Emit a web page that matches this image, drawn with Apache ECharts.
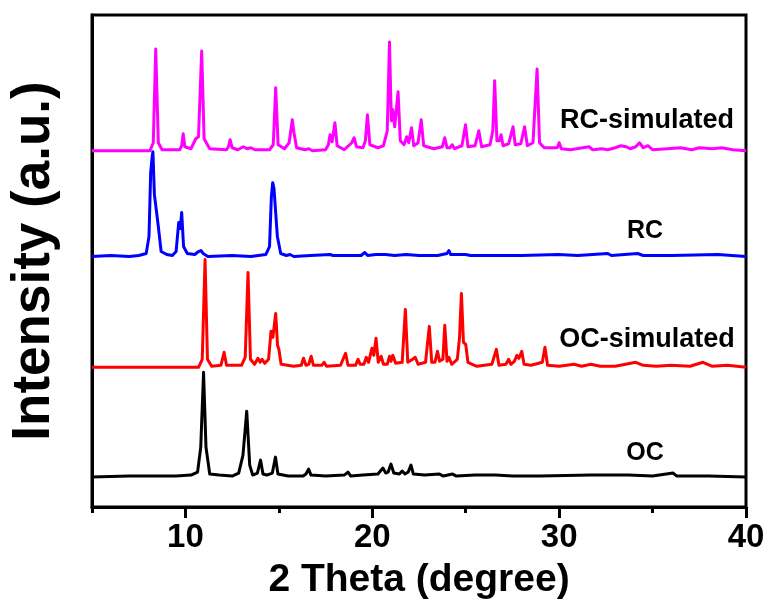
<!DOCTYPE html>
<html>
<head>
<meta charset="utf-8">
<script src="https://cdn.jsdelivr.net/npm/echarts@6/dist/echarts.min.js"></script>
<style>
  html, body { margin: 0; padding: 0; background: #fff; }
  #main { width: 770px; height: 605px; }
</style>
</head>
<body>
<div id="main"></div>
<script>
// pattern names, bottom to top
const seriesNames = ['OC', 'OC-simulated', 'RC', 'RC-simulated'];
const xTickLabels = [10, 20, 30, 40];
const xMinorTicks = [5, 15, 25, 35];

// [2theta, intensity above own baseline]
const ocData = [
  [5,0],[7,1],[9.5,1],[10.3,2],[10.65,5],[10.82,30],[10.97,105],[11.1,30],[11.3,3],[11.8,2],
  [12.5,1],[12.85,4],[13.08,22],[13.28,66],[13.44,12],[13.6,2],[13.85,4],[14.02,17],[14.15,3],
  [14.35,2],[14.65,4],[14.82,20],[14.95,3],[15.5,1],[16.3,1],[16.45,3],[16.59,8],[16.72,2],
  [17.5,1],[18.5,2],[18.7,5],[18.85,1],[19.5,2],[20.3,3],[20.57,9],[20.72,4],[20.85,5],
  [21.0,13],[21.15,4],[21.45,3],[21.6,6],[21.75,3],[21.92,5],[22.07,12],[22.2,3],[22.8,2],
  [23.6,3],[23.8,1],[24.3,3],[24.5,1],[25.5,2],[26.6,2],[27.5,1],[29,1],[31.7,2],[33.7,2],
  [35,1],[36.1,4],[36.3,1],[38,1],[40,0]
];

const ocSimData = [
  [5,0],[10.7,0],[10.9,8],[11.05,108],[11.18,8],[11.4,1],[11.9,2],[12.07,15],[12.2,2],[13.0,2],
  [13.2,10],[13.35,95],[13.48,8],[13.7,3],[13.88,9],[14.0,5],[14.1,8],[14.25,4],[14.45,8],
  [14.58,36],[14.68,30],[14.83,54],[14.93,22],[15.0,18],[15.12,3],[15.8,1],[16.2,2],[16.32,9],
  [16.45,2],[16.6,3],[16.73,11],[16.85,2],[17.3,2],[17.42,5],[17.55,1],[18.3,2],[18.57,14],
  [18.7,2],[19.1,2],[19.24,8],[19.35,3],[19.55,3],[19.68,10],[19.8,5],[19.98,19],[20.08,12],
  [20.2,29],[20.32,5],[20.47,11],[20.6,3],[20.8,3],[20.92,11],[21.0,6],[21.1,12],[21.25,4],
  [21.6,5],[21.77,58],[21.9,5],[22.16,8],[22.22,6],[22.3,10],[22.45,3],[22.85,5],[23.05,41],
  [23.18,5],[23.35,5],[23.49,16],[23.6,6],[23.78,8],[23.88,42],[24.0,6],[24.1,10],[24.25,3],
  [24.55,8],[24.67,30],[24.77,74],[24.88,25],[25.0,23],[25.12,5],[25.35,3],[25.6,1],[26.4,3],
  [26.64,18],[26.78,2],[27.15,3],[27.3,8],[27.42,3],[27.6,6],[27.74,12],[27.85,9],[28.0,16],
  [28.12,3],[28.5,2],[29.1,5],[29.24,20],[29.38,2],[30.0,1],[30.8,3],[31.2,1],[31.7,3],[32.2,1],
  [33.0,1],[34.1,5],[34.5,2],[35.2,1],[36.0,2],[37.0,1],[37.7,5],[38.2,1],[39.0,2],[40,0]
];

const rcData = [
  [5,0],[6,1],[7,0],[7.5,1],[7.9,3],[8.05,20],[8.14,84],[8.22,100],[8.26,105],[8.34,62],
  [8.44,60],[8.55,30],[8.7,5],[9.0,2],[9.3,1],[9.5,5],[9.64,34],[9.72,28],[9.8,44],[9.9,10],
  [10.1,3],[10.5,2],[10.7,5],[10.83,6],[10.95,3],[11.2,0],[12.5,1],[13.5,0],[14.3,2],[14.5,10],
  [14.6,60],[14.67,74],[14.74,68],[14.82,70],[14.92,20],[15.1,3],[15.4,1],[15.6,2],[15.8,0],
  [16.7,1],[17.74,2],[17.9,1],[18.5,1],[19.4,1],[19.6,4],[19.75,1],[20.2,2],[20.7,2],[21.2,1],
  [21.8,2],[22.5,1],[23.5,1],[24.0,3],[24.1,6],[24.2,2],[25.0,2],[25.1,4],[25.25,1],[26.5,1],
  [28.0,1],[29.95,2],[31,1],[32.6,3],[32.8,1],[33.5,2],[34.2,3],[34.5,1],[36,1],[38.5,2],[40,0]
];

const rcSimData = [
  [5,0],[8.1,0],[8.28,8],[8.41,102],[8.55,8],[8.75,1],[9.7,1],[9.8,5],[9.88,17],[9.97,4],
  [10.3,2],[10.55,12],[10.7,14],[10.87,100],[11.0,12],[11.3,2],[12.2,1],[12.3,4],[12.39,11],
  [12.5,3],[12.8,1],[13.1,4],[13.17,6],[13.3,2],[13.5,3],[13.6,5],[13.72,1],[14.5,1],[14.7,6],
  [14.83,63],[14.96,6],[15.3,2],[15.55,8],[15.72,31],[15.8,19],[15.95,3],[16.4,1],[16.6,2],
  [16.67,3],[16.8,0],[17.5,1],[17.65,6],[17.74,16],[17.85,9],[18.0,28],[18.12,5],[18.5,1],
  [18.9,8],[19.03,13],[19.15,4],[19.5,3],[19.63,10],[19.74,36],[19.87,6],[20.3,3],[20.6,5],
  [20.8,20],[20.92,109],[21.02,30],[21.1,41],[21.2,24],[21.38,59],[21.5,10],[21.7,6],[21.84,14],
  [21.95,8],[22.1,23],[22.22,5],[22.45,8],[22.62,31],[22.75,5],[23.3,2],[23.75,4],[23.88,13],
  [24.0,3],[24.15,3],[24.28,6],[24.4,2],[24.8,5],[24.99,26],[25.12,4],[25.5,5],[25.7,20],
  [25.85,4],[26.3,6],[26.45,20],[26.55,70],[26.67,10],[26.8,10],[26.89,16],[27.0,5],[27.3,7],
  [27.53,24],[27.65,6],[27.95,7],[28.15,24],[28.3,5],[28.6,8],[28.82,82],[28.95,8],[29.2,3],
  [29.9,3],[30.0,8],[30.12,2],[30.6,1],[31.6,4],[31.8,1],[32.3,2],[32.6,1],[33.0,3],[33.3,5],
  [33.6,4],[33.8,2],[34.1,4],[34.3,8],[34.5,3],[34.75,5],[35.0,1],[35.8,2],[36.5,3],[37.1,1],
  [37.5,3],[38.2,2],[38.7,3],[39.3,1],[40,0]
];

const patterns = [ocData, ocSimData, rcData, rcSimData];
const colors = ['#000000', '#ff0000', '#0000ff', '#ff00ff'];
// vertical shift of each pattern so they sit stacked
const stackOffsets = [30, 140, 251, 357];

const chart = echarts.init(document.getElementById('main'));
const font = '"Liberation Sans", Arial, sans-serif';

const series = patterns.map((d, i) => ({
  name: seriesNames[i],
  type: 'line',
  showSymbol: false,
  symbol: 'none',
  data: d.map(p => [p[0], p[1] + stackOffsets[i]]),
  lineStyle: { color: colors[i], width: 3, join: 'round' },
  itemStyle: { color: colors[i] },
  z: 2 + i,
  xAxisIndex: 0,
  yAxisIndex: 0
}));

// label anchors in data space (2theta, intensity)
const labelSpots = [[34.6, 54], [34.7, 168], [34.6, 276], [34.7, 387]];
const labelSizes = [25, 27, 25, 27];

chart.setOption({
  animation: false,
  grid: {
    left: 87, right: 24, top: 15, bottom: 97,
    show: true, borderColor: '#000', borderWidth: 3
  },
  xAxis: [{
    type: 'value', min: 5, max: 40, interval: 5,
    name: '2 Theta (degree)', nameLocation: 'middle', nameGap: 54,
    nameTextStyle: { fontFamily: font, fontWeight: 'bold', fontSize: 39, color: '#000' },
    axisLine: { lineStyle: { color: '#000', width: 3 } },
    axisTick: { show: true, length: 11, customValues: xTickLabels, lineStyle: { color: '#000', width: 3 } },
    axisLabel: { customValues: xTickLabels, margin: 14, fontFamily: font, fontWeight: 'bold', fontSize: 33, color: '#000' },
    splitLine: { show: false }
  }, {
    type: 'value', min: 5, max: 40, interval: 5, position: 'bottom',
    axisLine: { show: false },
    axisTick: { show: true, length: 6, customValues: xMinorTicks, lineStyle: { color: '#000', width: 3 } },
    axisLabel: { show: false },
    splitLine: { show: false }
  }],
  yAxis: {
    type: 'value', min: 0, max: 493,
    name: 'Intensity (a.u.)', nameLocation: 'middle', nameGap: 31,
    nameTextStyle: { fontFamily: font, fontWeight: 'bold', fontSize: 53, color: '#000' },
    axisLine: { show: true, lineStyle: { color: '#000', width: 3 } },
    axisTick: { show: false },
    axisLabel: { show: false },
    splitLine: { show: false }
  },
  series: series
});

chart.setOption({
  graphic: labelSpots.map((s, i) => {
    const p = chart.convertToPixel({ xAxisIndex: 0, yAxisIndex: 0 }, s);
    return {
      type: 'text', x: p[0], y: p[1],
      style: {
        text: seriesNames[i], fill: '#000',
        font: 'bold ' + labelSizes[i] + 'px ' + font,
        align: 'center', verticalAlign: 'middle'
      },
      z: 10
    };
  })
});
</script>
</body>
</html>
